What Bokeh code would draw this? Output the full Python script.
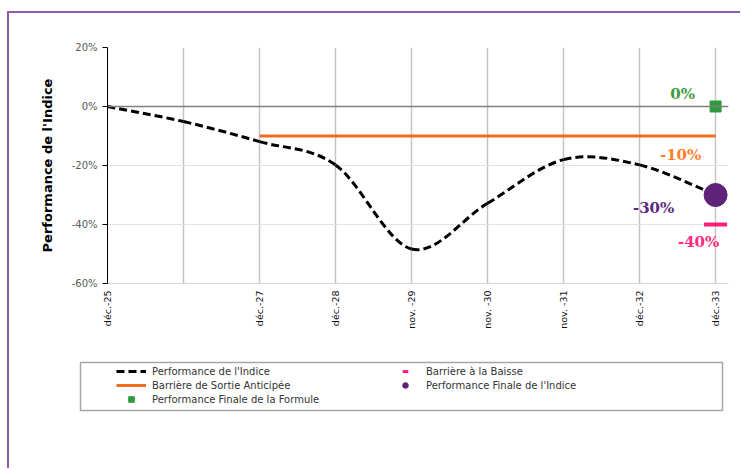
import math
from bokeh.plotting import figure
from bokeh.layouts import column, row
from bokeh.models import (Range1d, FixedTicker, PrintfTickFormatter, Span, Legend,
                          LegendItem)
from bokeh.core.properties import value
from bokeh.embed import file_html
from bokeh.resources import INLINE

# ---------------- data ----------------
categories = ["déc.-25", "", "déc.-27", "déc.-28", "nov. -29", "nov. -30",
              "nov. -31", "déc.-32", "déc.-33"]
performance_indice = [0.0, -5.1, -11.9, -19.8, -48.3, -32.8, -18.0, -19.8, -30.0]
barriere_sortie = [None, None, -10, -10, -10, -10, -10, -10, -10]
barriere_baisse = -40
perf_finale_indice = -30
perf_finale_formule = 0
y_ticks = [-60, -40, -20, 0, 20]

idx = list(range(len(categories)))
last = idx[-1]

# colours / styles
C_PERF = "black"
C_SORTIE = "#F26C1E"
C_BAISSE = "#FF1F7A"
C_INDICE = "#5E2378"
C_FORMULE = "#2E9A3E"

# ---------------- chart figure ----------------
p = figure(width=731, height=335, output_backend="svg", toolbar_location=None,
           x_range=Range1d(0, 8.17), y_range=Range1d(-60, 20),
           min_border_left=98, min_border_right=12, min_border_top=34,
           min_border_bottom=65)
p.outline_line_color = None
p.background_fill_color = "white"
p.border_fill_color = "white"

p.xgrid.ticker = FixedTicker(ticks=idx)
p.xgrid.grid_line_color = "#C4C4C4"
p.xgrid.grid_line_width = 1.5
p.ygrid.ticker = FixedTicker(ticks=y_ticks)
p.ygrid.grid_line_color = "#E2E2E2"
p.ygrid.grid_line_width = 1

p.add_layout(Span(location=0, dimension="width", line_color="#7F7F7F", line_width=1.5))

xa = p.xaxis[0]
xa.ticker = FixedTicker(ticks=idx)
xa.major_label_overrides = {i: lab for i, lab in zip(idx, categories)}
xa.major_label_orientation = math.pi / 2
xa.axis_line_color = "#D6D6D6"
xa.major_tick_line_color = None
xa.minor_tick_line_color = None
xa.major_tick_out = 0
xa.major_tick_in = 0
xa.major_label_standoff = 7
xa.major_label_text_font = "DejaVu Sans"
xa.major_label_text_font_size = "9.5px"
xa.major_label_text_color = "#111111"

ya = p.yaxis[0]
ya.ticker = FixedTicker(ticks=y_ticks)
ya.formatter = PrintfTickFormatter(format="%d%%")
ya.axis_line_color = "black"
ya.major_tick_line_color = "black"
ya.minor_tick_line_color = None
ya.major_tick_out = 5
ya.major_tick_in = 0
ya.major_label_standoff = 5
ya.major_label_text_font = "DejaVu Sans"
ya.major_label_text_font_size = "10px"
ya.major_label_text_color = "#595959"
ya.axis_label = "Performance de l'Indice"
ya.axis_label_text_font = "DejaVu Sans"
ya.axis_label_text_font_style = "bold"
ya.axis_label_text_font_size = "13px"
ya.axis_label_text_color = "black"
ya.axis_label_standoff = 14

# smooth index curve (Catmull-Rom spline drawn as Bezier segments)
n = len(performance_indice)
x0s, y0s, x1s, y1s, cx0s, cy0s, cx1s, cy1s = [], [], [], [], [], [], [], []
for i in range(n - 1):
    a = max(i - 1, 0)
    d = min(i + 2, n - 1)
    px0, py0 = idx[a], performance_indice[a]
    px1, py1 = idx[i], performance_indice[i]
    px2, py2 = idx[i + 1], performance_indice[i + 1]
    px3, py3 = idx[d], performance_indice[d]
    x0s.append(px1); y0s.append(py1)
    x1s.append(px2); y1s.append(py2)
    cx0s.append(px1 + (px2 - px0) / 6); cy0s.append(py1 + (py2 - py0) / 6)
    cx1s.append(px2 - (px3 - px1) / 6); cy1s.append(py2 - (py3 - py1) / 6)

p.bezier(x0=x0s, y0=y0s, x1=x1s, y1=y1s, cx0=cx0s, cy0=cy0s, cx1=cx1s, cy1=cy1s,
         line_color=C_PERF, line_width=3, line_dash="8 4")

bx = [i for i, v in zip(idx, barriere_sortie) if v is not None]
by = [v for v in barriere_sortie if v is not None]
p.line(bx, by, line_color=C_SORTIE, line_width=3)

p.scatter([last], [barriere_baisse], marker="dash", size=23,
          line_color=C_BAISSE, line_width=4)
p.scatter([last], [perf_finale_indice], marker="circle", size=23,
          fill_color=C_INDICE, line_color=C_INDICE)
p.scatter([last], [perf_finale_formule], marker="square", size=11,
          fill_color=C_FORMULE, line_color=C_FORMULE)

def lab(v):
    return f"{v:.0f}%"

common = dict(text_font=value("DejaVu Serif"), text_font_style="bold",
              text_font_size="15px", text_align="center", text_baseline="middle")
p.text([last], [perf_finale_formule], text=[lab(perf_finale_formule)],
       text_color="#3D9A3D", x_offset=-33, y_offset=-13, **common)
p.text([bx[-1]], [by[-1]], text=[lab(by[-1])],
       text_color="#FF7F2A", x_offset=-35, y_offset=19, **common)
p.text([last], [perf_finale_indice], text=[lab(perf_finale_indice)],
       text_color="#5E2A80", x_offset=-62, y_offset=13, **common)
p.text([last], [barriere_baisse], text=[lab(barriere_baisse)],
       text_color="#FF2A7F", x_offset=-17, y_offset=17, **common)

# ---------------- legend figure (its frame outline is the legend box) ----------------
p2 = figure(width=731, height=120, output_backend="svg", toolbar_location=None,
            x_range=Range1d(-100, -99), y_range=Range1d(-100, -99),
            x_axis_location=None, y_axis_location=None,
            min_border_left=71, min_border_right=18,
            min_border_top=14, min_border_bottom=58)
p2.grid.visible = False
p2.outline_line_color = "#A6A6A6"
p2.outline_line_width = 1.5
p2.background_fill_color = "white"
p2.border_fill_color = "white"

# legend samples: same series and styles, outside this figure's visible range
g_perf = p2.line(idx, performance_indice, line_color=C_PERF, line_width=3, line_dash="8 4")
g_baisse = p2.scatter([last], [barriere_baisse], marker="dash", line_color=C_BAISSE, line_width=3)
g_sortie = p2.line(bx, by, line_color=C_SORTIE, line_width=3)
g_indice = p2.scatter([last], [perf_finale_indice], marker="circle",
                      fill_color=C_INDICE, line_color=C_INDICE)
g_formule = p2.scatter([last], [perf_finale_formule], marker="square",
                       fill_color=C_FORMULE, line_color=C_FORMULE)

legend = Legend(items=[
    LegendItem(label="Performance de l'Indice", renderers=[g_perf]),
    LegendItem(label="Barrière à la Baisse", renderers=[g_baisse]),
    LegendItem(label="Barrière de Sortie Anticipée", renderers=[g_sortie]),
    LegendItem(label="Performance Finale de l'Indice", renderers=[g_indice]),
    LegendItem(label="Performance Finale de la Formule", renderers=[g_formule]),
], location=(36, 4), orientation="horizontal", ncols=2,
    glyph_width=30, glyph_height=14, label_standoff=6, label_width=238,
    label_height=14, spacing=0, padding=0, margin=0,
    border_line_alpha=0, background_fill_alpha=0,
    label_text_font="DejaVu Sans", label_text_font_size="10px",
    label_text_color="#333333")
p2.add_layout(legend)

layout = column(p, row(p2, spacing=0), spacing=0)
layout.styles = {"border-left": "2px solid #8C5FAA", "border-top": "2px solid #8C5FAA",
                 "margin-left": "7px", "margin-top": "11px"}

open("out.html", "w").write(file_html(layout, INLINE))
